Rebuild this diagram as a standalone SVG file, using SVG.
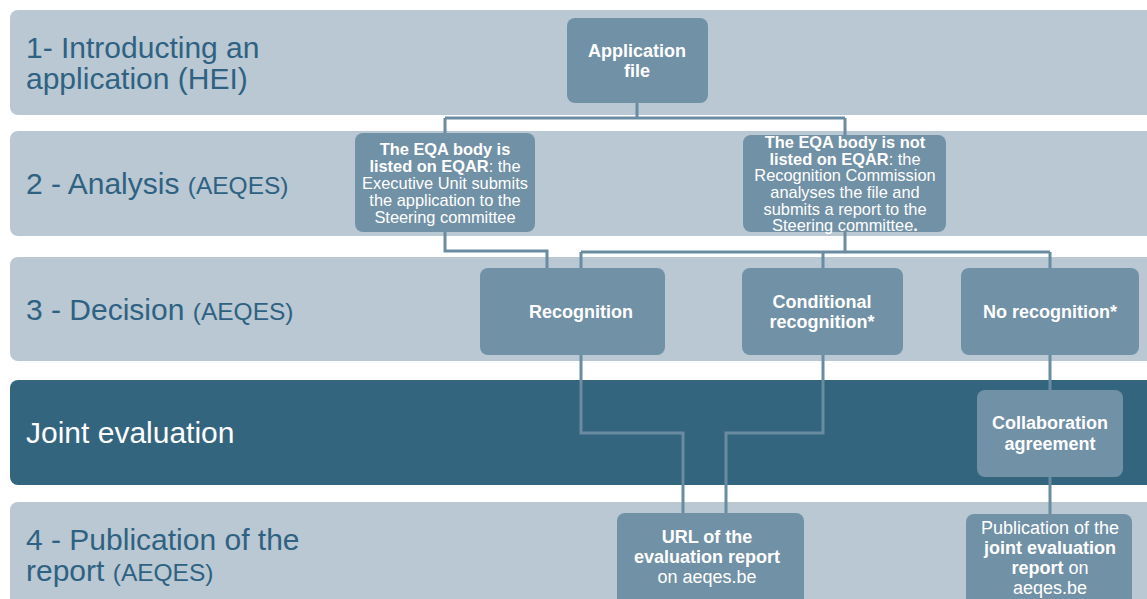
<svg xmlns="http://www.w3.org/2000/svg" width="1147" height="599" viewBox="0 0 1147 599">
<style>
.band{fill:#b9c8d3}
.dark{fill:#34657f}
.node{fill:#7191a6}
.lbl{font-family:"Liberation Sans",Arial,sans-serif;font-size:30px;fill:#2f6282}
.sm{font-size:24.5px}
.nt{font-family:"Liberation Sans",Arial,sans-serif;fill:#fff;text-anchor:middle}
.b18{font-size:18px;font-weight:bold}
.r18{font-size:18px}
.t16{font-size:16.4px}
.b{font-weight:bold}
.c{fill:none;stroke:#6a8ca2;stroke-width:3}
</style>
<rect width="1147" height="599" fill="#fff"/>
<g id="bands">
<rect class="band" x="10" y="10" width="1150" height="105" rx="8"/>
<rect class="band" x="10" y="131" width="1150" height="105" rx="8"/>
<rect class="band" x="10" y="257" width="1150" height="104" rx="8"/>
<rect class="dark" x="10" y="380" width="1150" height="105" rx="8"/>
<rect class="band" x="10" y="502" width="1150" height="110" rx="8"/>
<text class="lbl" x="26" y="58">1- Introducting an</text>
<text class="lbl" x="26" y="89">application (HEI)</text>
<text class="lbl" x="26" y="194">2 - Analysis <tspan class="sm">(AEQES)</tspan></text>
<text class="lbl" x="26" y="320">3 - Decision <tspan class="sm">(AEQES)</tspan></text>
<text class="lbl" x="26" y="443" style="fill:#fff">Joint evaluation</text>
<text class="lbl" x="26" y="550">4 - Publication of the</text>
<text class="lbl" x="26" y="581">report <tspan class="sm">(AEQES)</tspan></text>
</g>
<g id="connectors">
<path class="c" d="M637 103V118M445 118H845M445 118V133M845 118V135"/>
<path class="c" d="M445 232V251H547V268"/>
<path class="c" d="M845 232V252M581 252H1050M581 252V268M823 252V268M1050 252V268"/>
<path class="c" d="M581 355V433H683V513"/>
<path class="c" d="M823 355V433H726V513"/>
<path class="c" d="M1050 355V390M1050 477V514"/>
</g>
<g id="application-file">
<rect class="node" x="567" y="18" width="141" height="85" rx="8"/>
<text class="nt b18" x="637" y="57">Application</text>
<text class="nt b18" x="637" y="77">file</text>
</g>
<g id="eqa-listed">
<rect class="node" x="355" y="133" width="180" height="99" rx="8"/>
<text class="nt t16" x="445" y="155"><tspan class="b">The EQA body is</tspan></text>
<text class="nt t16" x="445" y="172"><tspan class="b">listed on EQAR</tspan>: the</text>
<text class="nt t16" x="445" y="189">Executive Unit submits</text>
<text class="nt t16" x="445" y="206">the application to the</text>
<text class="nt t16" x="445" y="223">Steering committee</text>
</g>
<g id="eqa-not-listed">
<rect class="node" x="743" y="135" width="203" height="97" rx="8"/>
<text class="nt t16" x="845" y="148"><tspan class="b">The EQA body is not</tspan></text>
<text class="nt t16" x="845" y="165"><tspan class="b">listed on EQAR</tspan>: the</text>
<text class="nt t16" x="845" y="181">Recognition Commission</text>
<text class="nt t16" x="845" y="198">analyses the file and</text>
<text class="nt t16" x="845" y="215">submits a report to the</text>
<text class="nt t16" x="845" y="231">Steering committee<tspan class="b">.</tspan></text>
</g>
<g id="recognition">
<rect class="node" x="480" y="268" width="185" height="87" rx="8"/>
<text class="nt b18" x="581" y="318">Recognition</text>
</g>
<g id="conditional-recognition">
<rect class="node" x="742" y="268" width="161" height="87" rx="8"/>
<text class="nt b18" x="822" y="308">Conditional</text>
<text class="nt b18" x="822" y="328">recognition*</text>
</g>
<g id="no-recognition">
<rect class="node" x="961" y="268" width="178" height="87" rx="8"/>
<text class="nt b18" x="1050" y="318">No recognition*</text>
</g>
<g id="collaboration-agreement">
<rect class="node" x="977" y="390" width="146" height="87" rx="8"/>
<text class="nt b18" x="1050" y="429">Collaboration</text>
<text class="nt b18" x="1050" y="450">agreement</text>
</g>
<g id="url-report">
<rect class="node" x="617" y="513" width="187" height="95" rx="8"/>
<text class="nt b18" x="707" y="543">URL of the</text>
<text class="nt b18" x="707" y="563">evaluation report</text>
<text class="nt r18" x="707" y="583">on aeqes.be</text>
</g>
<g id="publication-joint">
<rect class="node" x="966" y="514" width="166" height="95" rx="8"/>
<text class="nt r18" x="1050" y="534">Publication of the</text>
<text class="nt b18" x="1050" y="554">joint evaluation</text>
<text class="nt r18" x="1050" y="574"><tspan class="b">report</tspan> on</text>
<text class="nt r18" x="1050" y="594">aeqes.be</text>
</g>
</svg>
